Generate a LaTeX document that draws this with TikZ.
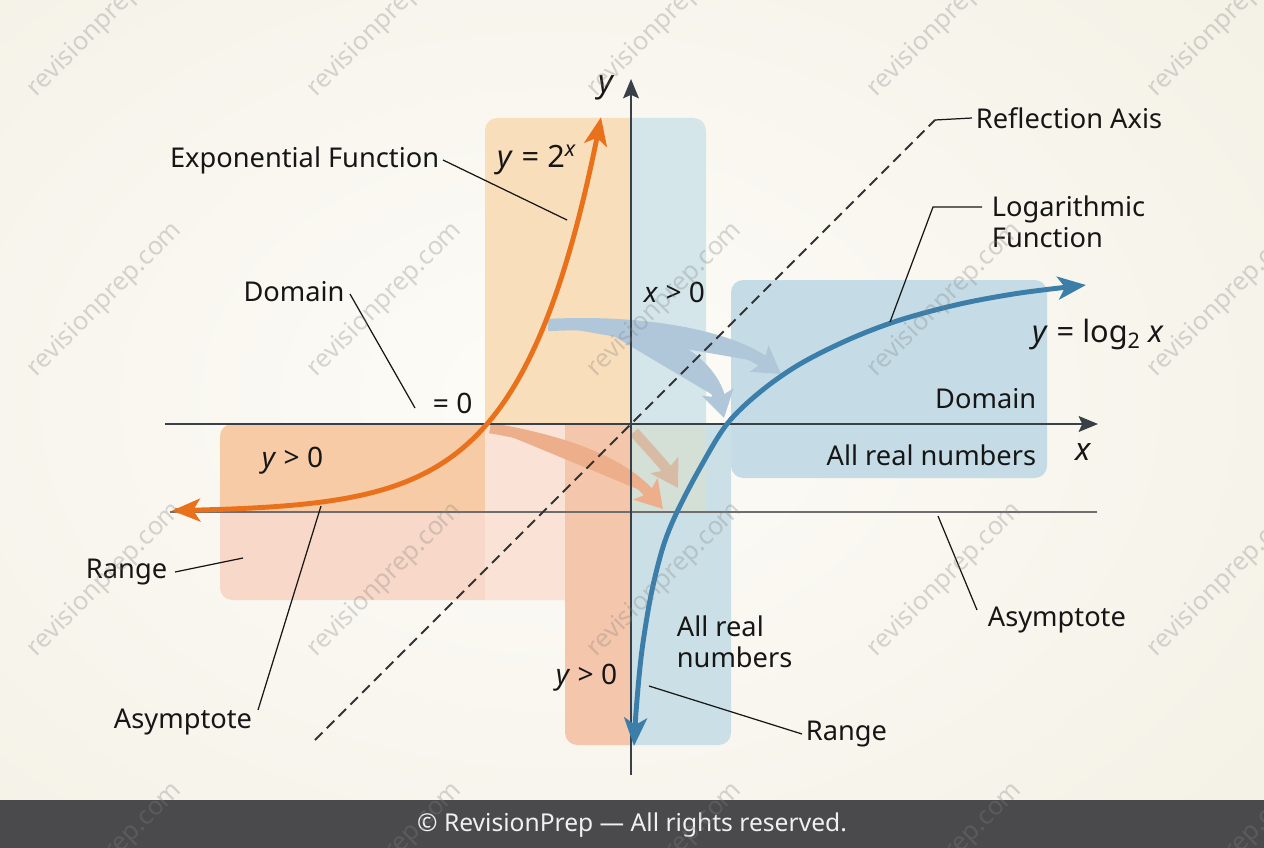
\documentclass[tikz,border=0pt]{standalone}
\usepackage{fontspec}
\setmainfont{Noto Sans}
\usetikzlibrary{arrows.meta}
\definecolor{bgout}{HTML}{F1EDE0}
\definecolor{bgin}{HTML}{FDFCF8}
\definecolor{oHu}{HTML}{F6CBA5}
\definecolor{oHl}{HTML}{F8D8C8}
\definecolor{oBand}{HTML}{FAE3D6}
\definecolor{oV}{HTML}{F9DEBB}
\definecolor{oS}{HTML}{F4C6AC}
\definecolor{bA}{HTML}{D4E6EA}
\definecolor{bC}{HTML}{CBE0E6}
\definecolor{bMix}{HTML}{D4DFD6}
\definecolor{bB}{HTML}{C5DCE6}
\definecolor{expc}{HTML}{E9711C}
\definecolor{logc}{HTML}{3B7EA9}
\definecolor{axisc}{HTML}{3A4047}
\definecolor{asymc}{HTML}{6E6E6E}
\definecolor{footc}{HTML}{4A4A4D}
\definecolor{fblue}{HTML}{B0C7DA}
\definecolor{forange}{HTML}{EDAE8B}
\definecolor{ftan}{HTML}{D8BBA4}
\definecolor{inkc}{HTML}{161616}
\tikzset{
  lbl/.style={inner sep=2pt, text=inkc, font=\fontsize{15.5}{17.6}\selectfont},
  mlbl/.style={inner sep=2pt, text=inkc, font=\fontsize{16}{19}\selectfont},
  eqlbl/.style={inner sep=2pt, text=inkc, font=\fontsize{17.5}{21}\selectfont},
  leader/.style={draw=inkc, line width=0.7pt},
  axisline/.style={draw=axisc, line width=1.2pt, -{Stealth[length=11pt,width=9pt,inset=2pt]}},
  farrow/.style={line width=7pt, -{Stealth[length=15pt,width=18pt,inset=3pt]}},
  curvearrows/.style={{Stealth[length=16pt,width=13pt,inset=4pt]}-{Stealth[length=16pt,width=13pt,inset=4pt]}},
  wm/.style={text=gray, opacity=0.3, rotate=45, font=\fontsize{14.5}{17}\selectfont, inner sep=0pt},
}
\begin{document}
\begin{tikzpicture}[x=0.02cm,y=-0.02cm]
\useasboundingbox (0,0) rectangle (1264,848);
\clip (0,0) rectangle (1264,848);
% background
\fill[bgout] (0,0) rectangle (1264,848);
\shade[inner color=bgin, outer color=bgout] (560,400) ellipse [x radius=24cm, y radius=17cm];

% ---- orange regions
\begin{scope}
  \clip (220,424) rectangle (631,512);
  \fill[oHu, rounded corners=7pt] (220,424) rectangle (700,700);
\end{scope}
\begin{scope}
  \clip (220,512) rectangle (631,600);
  \fill[oHl, rounded corners=7pt] (220,300) rectangle (700,600);
\end{scope}
\fill[oBand] (485,424) rectangle (565,600);
\begin{scope}
  \clip (485,118) rectangle (631,424);
  \fill[oV, rounded corners=7pt] (485,118) rectangle (700,500);
\end{scope}
\begin{scope}
  \clip (565,424) rectangle (631,745);
  \fill[oS, rounded corners=7pt] (565,300) rectangle (700,745);
\end{scope}
% ---- blue regions
\begin{scope}
  \clip (631,118) rectangle (706,424);
  \fill[bA, rounded corners=7pt] (560,118) rectangle (706,500);
\end{scope}
\begin{scope}
  \clip (631,424) rectangle (731,745);
  \fill[bC, rounded corners=7pt] (560,300) rectangle (731,745);
\end{scope}
\fill[bMix] (631,424) rectangle (706,512);
\fill[bB, rounded corners=7pt] (731,280) rectangle (1047,478);

% ---- faint mapping arrows
\coordinate (fb1s) at (548,325);
\coordinate (fb1e) at (781,374);
\coordinate (fb2s) at (600,328);
\coordinate (fb2e) at (724,418);
\coordinate (fo1s) at (490,428);
\coordinate (fo1e) at (663,509);
\coordinate (fo2s) at (634,432);
\coordinate (fo2e) at (678,488);
\draw[farrow, draw=fblue, fill=fblue] (fb1s) .. controls (650,320) and (730,338) .. (fb1e);
\draw[farrow, draw=fblue, fill=fblue] (fb2s) .. controls (672,333) and (712,368) .. (fb2e);
\draw[farrow, draw=forange, fill=forange, line width=6pt] (fo1s) .. controls (560,440) and (620,460) .. (fo1e);
\draw[farrow, draw=ftan, fill=ftan, line width=6pt] (fo2s) .. controls (650,450) and (665,466) .. (fo2e);

% ---- asymptote line
\coordinate (as0) at (170,512);
\coordinate (as1) at (1097,512);
\draw[asymc, line width=1.1pt] (as0) -- (as1);

% ---- reflection axis
\coordinate (rf0) at (315,740);
\coordinate (rf1) at (935,120);
\draw[black!80, line width=1.1pt, dash pattern=on 6pt off 3.5pt] (rf0) -- (rf1);

% ---- axes
\coordinate (xl) at (165,424);
\coordinate (xr) at (1098,424);
\coordinate (yb) at (631,775);
\coordinate (yt) at (631,79);
\draw[axisline] (xl) -- (xr);
\draw[axisline] (yb) -- (yt);
\node[eqlbl, font=\fontsize{18}{21}\selectfont\itshape] (ylab) at (606,88) {y};
\node[eqlbl, font=\fontsize{18}{21}\selectfont\itshape] (xlab) at (1083,452) {x};

% ---- curves
\draw[expc, line width=2.8pt, curvearrows]
  plot[domain=172:601, samples=120, smooth] (\x, {512-88*exp(0.01317*(\x-487))});
\draw[logc, line width=2.8pt, curvearrows]
  plot[smooth, tension=0.55] coordinates {(634,746) (637,700) (642,650) (651,595) (663,547) (677,512) (700,468) (727,424) (760,392) (800,364) (850,339) (900,320) (960,304) (1020,293) (1086,285)};

% ---- labels
\node[lbl, anchor=west] (refl) at (972,118) {Reflection Axis};
\draw[leader] (rf1) -- (refl.west);

\node[lbl, anchor=east] (expf) at (443,160) {Exponential Function};
\coordinate (expfe) at (567,220);
\draw[leader] (expf.east) -- (expfe);
\node[eqlbl, anchor=west] (expeq) at (494,160) {\textit{y} = 2\textsuperscript{\textit{x}}};

\node[lbl] (domL) at (294,292) {Domain};
\coordinate (domLe) at (415,408);
\draw[leader] (350,294) -- (domLe);
\node[mlbl, anchor=west] (eq0) at (429,403) {= 0};

\node[mlbl, anchor=west] (xgt) at (640,292) {\textit{x} > 0};

\node[lbl, anchor=west, align=left] (logf) at (988,222) {Logarithmic\\Function};
\coordinate (logb) at (933,207);
\coordinate (loge) at (890,322);
\coordinate (logs) at (982,207);
\draw[leader] (logs) -- (logb) -- (loge);

\node[eqlbl, anchor=west] (logeq) at (1029,335) {\textit{y} = log\textsubscript{2} \textit{x}};

\node[lbl, anchor=east] (domR) at (1040,399) {Domain};
\node[lbl, anchor=east] (allR) at (1040,455) {All real numbers};

\node[mlbl, anchor=west] (ygtL) at (258,461) {\textit{y} > 0};

\node[lbl, anchor=east] (rangeL) at (171,572) {Range};
\coordinate (rangeLe) at (243,558);
\draw[leader] (rangeL.east) ++(4,0) -- (rangeLe);

\node[lbl] (asymL) at (183,722) {Asymptote};
\coordinate (asymLs) at (258,710);
\coordinate (asymLe) at (321,506);
\draw[leader] (asymLs) -- (asymLe);

\node[mlbl, anchor=west] (ygtB) at (552,678) {\textit{y} > 0};

\node[lbl, anchor=west, align=left] (allB) at (673,642) {All real\\numbers};

\node[lbl, anchor=west] (rangeB) at (802,734) {Range};
\coordinate (rangeBe) at (649,686);
\draw[leader] (rangeB.west) -- (rangeBe);

\node[lbl, anchor=west] (asymR) at (984,620) {Asymptote};
\coordinate (asymRe) at (938,516);
\draw[leader] (977,610) -- (asymRe);

% ---- footer
\fill[footc] (0,800) rectangle (1264,848);
\node[text=white!94!black, font=\fontsize{14}{16}\selectfont] (foot) at (632,825) {© RevisionPrep — All rights reserved.};

% ---- watermarks
\foreach \wx in {105,385,665,945,1225} {
  \foreach \wy in {20,300,580,860} {
    \node[wm] at (\wx,\wy) {revisionprep.com};
  }
}
\end{tikzpicture}
\end{document}
